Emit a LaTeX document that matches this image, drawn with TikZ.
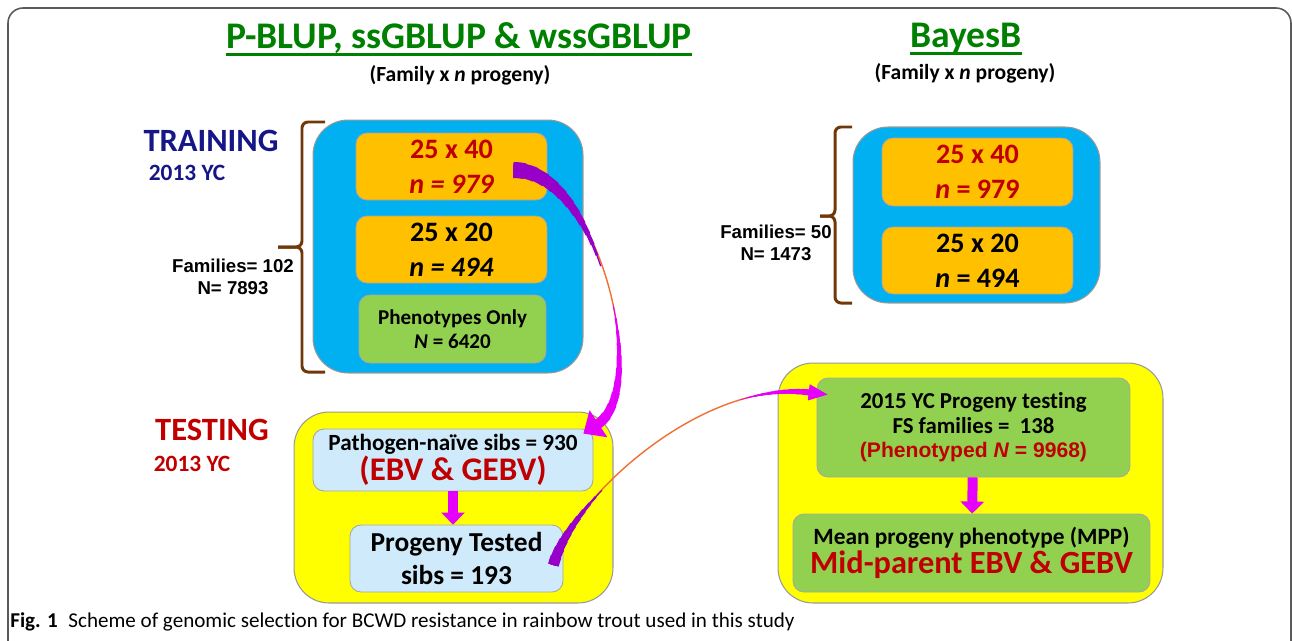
\documentclass[tikz,border=0pt]{standalone}
\usepackage{fontspec}
\setmainfont{Carlito}[Ligatures=NoCommon]
\newfontfamily\arialFont{Liberation Sans}
\usetikzlibrary{arrows.meta,calc}

\definecolor{frameGray}{RGB}{90,90,90}
\definecolor{titleGreen}{RGB}{0,128,0}
\definecolor{trainBlue}{RGB}{22,22,135}
\definecolor{darkRed}{RGB}{192,0,0}
\definecolor{cyanFill}{RGB}{0,176,240}
\definecolor{orangeFill}{RGB}{255,192,0}
\definecolor{greenFill}{RGB}{146,208,80}
\definecolor{yellowFill}{RGB}{255,255,0}
\definecolor{paleFill}{RGB}{207,234,250}
\definecolor{braceBrown}{RGB}{112,56,8}
\definecolor{arcPurple}{RGB}{150,0,200}
\definecolor{arcMagenta}{RGB}{228,0,250}
\definecolor{arcOrange}{RGB}{240,112,50}

\newcommand{\sz}[2]{\fontsize{#1}{#2}\selectfont}
\newcommand{\RedTxt}[1]{\textcolor{darkRed}{#1}}

\begin{document}
\begin{tikzpicture}[x=0.02cm,y=-0.02cm]
  \tikzset{
    panel/.style={draw=black!40, line width=0.6pt, rounded corners=0.7cm, inner sep=0pt},
    cell/.style={draw=black!35, line width=0.5pt, rounded corners=0.22cm, align=center, inner sep=0pt, text=black, font=\bfseries},
    orangeCell/.style={cell, fill=orangeFill, minimum width=3.82cm, minimum height=1.34cm, font=\bfseries\sz{16}{20}},
    greenCell/.style={cell, fill=greenFill},
    paleCell/.style={cell, fill=paleFill},
    heading/.style={text=titleGreen, font=\bfseries\sz{21.4}{24}, inner sep=0pt},
    subHeading/.style={font=\bfseries\sz{12.3}{14}, inner sep=0pt},
    stageLabel/.style={font=\bfseries\sz{18.5}{20}, inner sep=0pt},
    yearLabel/.style={font=\bfseries\sz{13.3}{15}, inner sep=0pt},
    countLabel/.style={font=\arialFont\bfseries\sz{10.6}{12.3}, align=center, inner sep=0pt},
    braceLine/.style={draw=braceBrown, line width=1.7pt, rounded corners=0.12cm},
    dropArrow/.style={draw=arcMagenta, line width=0.2cm, -{Triangle[width=0.46cm,length=0.24cm]}},
    arcThin/.style={draw=arcOrange, line width=0.8pt},
  }
  \useasboundingbox (0,0) rectangle (1292,640);
  \clip (0,0) rectangle (1292,640);

  % outer frame
  \draw[frameGray, line width=0.9pt, rounded corners=0.3cm] (8,660) -- (8,8) -- (1291,8) -- (1291,660);

  % headings
  \node[heading] (hdA) at (459,38) {P-BLUP, ssGBLUP \& wssGBLUP};
  \draw[titleGreen, line width=1.5pt] ([yshift=-3.5pt]hdA.base west) -- ([yshift=-3.5pt]hdA.base east);
  \node[subHeading] (subA) at (460,75) {(Family x \textit{n} progeny)};
  \node[heading] (hdB) at (966,38) {BayesB};
  \draw[titleGreen, line width=1.5pt] ([yshift=-3.5pt]hdB.base west) -- ([yshift=-3.5pt]hdB.base east);
  \node[subHeading] (subB) at (965,73) {(Family x \textit{n} progeny)};

  % training, left
  \node[stageLabel, text=trainBlue] (trnLbl) at (211,141) {TRAINING};
  \node[yearLabel, text=trainBlue] (trnYr) at (187,173) {2013 YC};
  \node[countLabel] (trnCnt) at (233,277) {Families= 102\\N= 7893};
  \draw[braceLine] (325,122) -- (302,122) -- (302,247) -- (278,247);
  \draw[braceLine] (278,247) -- (302,247) -- (302,372) -- (325,372);
  \node[panel, fill=cyanFill, minimum width=5.4cm, minimum height=5.06cm] (trnPanel) at (448,246.5) {};
  \node[orangeCell] (trnA) at (451.5,166.5) {\RedTxt{25 x 40}\\\RedTxt{\itshape n = 979}};
  \node[orangeCell] (trnB) at (451.5,249.5) {25 x 20\\{\itshape n = 494}};
  \node[greenCell, minimum width=3.74cm, minimum height=1.36cm, font=\bfseries\sz{12}{14}] (trnC) at (452.5,329) {Phenotypes Only\\\textit{N} = 6420};

  % training, BayesB
  \node[countLabel] (bayCnt) at (776,243) {Families= 50\\N= 1473};
  \draw[braceLine] (852,127) -- (835,127) -- (835,216) -- (820,216);
  \draw[braceLine] (820,216) -- (835,216) -- (835,303) -- (852,303);
  \node[panel, fill=cyanFill, minimum width=4.94cm, minimum height=3.52cm] (bayPanel) at (976.5,215) {};
  \node[orangeCell, minimum height=1.36cm] (bayA) at (977.5,172) {\RedTxt{25 x 40}\\\RedTxt{\textit{n} = 979}};
  \node[orangeCell] (bayB) at (977.5,260.5) {25 x 20\\\textit{n} = 494};

  % testing
  \node[stageLabel, text=darkRed] (tstLbl) at (212,430) {TESTING};
  \node[yearLabel, text=darkRed] (tstYr) at (192,464) {2013 YC};
  \node[panel, fill=yellowFill, minimum width=6.38cm, minimum height=3.82cm] (tstPanel) at (453.5,507.5) {};
  \node[paleCell, minimum width=5.6cm, minimum height=1.24cm] (naive) at (453,460)
    {{\sz{13.2}{16}Pathogen-naïve sibs = 930}\\{\sz{18.8}{20}\color{darkRed}(EBV \& GEBV)}};
  \node[paleCell, minimum width=4.26cm, minimum height=1.34cm, font=\bfseries\sz{15.6}{19}] (tested) at (456.5,558.5) {Progeny Tested\\sibs = 193};
  \draw[dropArrow] (naive.south) -- (naive.south |- tested.north);

  % progeny testing
  \node[panel, fill=yellowFill, minimum width=7.7cm, minimum height=4.8cm] (progPanel) at (970.5,483) {};
  \node[greenCell, minimum width=6.26cm, minimum height=1.98cm, font=\bfseries\sz{13}{14}] (ycTest) at (973.5,427.5)
    {2015 YC Progeny testing\\FS families =~~138\\{\arialFont\bfseries\sz{12}{14}\color{darkRed}(Phenotyped \textit{N} = 9968)}};
  \node[greenCell, minimum width=7.14cm, minimum height=1.56cm] (mpp) at (971.5,553)
    {{\sz{13.3}{16}Mean progeny phenotype (MPP)}\\{\sz{18.4}{20}\color{darkRed}Mid-parent EBV \& GEBV}};
  \draw[dropArrow] (ycTest) -- (mpp);

  % curved links
  \coordinate (arcAs) at ($(trnA.east)+(-34,3.5)$);
  \coordinate (arcAe) at ($(naive.north east)+(-10,5)$);
  \coordinate (arcBs) at ($(tested.east)+(-10,6.5)$);
  \coordinate (arcBe) at ($(ycTest.north west)+(11,17)$);

  \draw[arcThin, -{Triangle[color=arcMagenta, width=0.64cm, length=0.36cm]}] (arcAs) .. controls +(87,0) and +(67,-44) .. (arcAe);
  \foreach \i [evaluate=\i as \w using 0.32*(13-\i)/12, evaluate=\i as \l using 0.23*\i] in {1,...,12}
    \draw[arcPurple, line width=\w cm, dash pattern=on \l cm off 30cm] (arcAs) .. controls +(87,0) and +(67,-44) .. (arcAe);
  \foreach \i [evaluate=\i as \w using 0.2*(11-\i)/10, evaluate=\i as \l using 0.25*\i] in {1,...,10}
    \draw[arcMagenta, line width=\w cm, dash pattern=on \l cm off 30cm, shorten <=0.34cm] (arcAe) .. controls +(67,-44) and +(87,0) .. (arcAs);

  \draw[arcThin, -{Triangle[color=arcMagenta, width=0.32cm, length=0.38cm]}] (arcBs) .. controls +(17,-65) and +(-128,-15) .. (arcBe);
  \foreach \i [evaluate=\i as \w using 0.22*(11-\i)/10, evaluate=\i as \l using 0.18*\i] in {1,...,10}
    \draw[arcPurple, line width=\w cm, dash pattern=on \l cm off 30cm] (arcBs) .. controls +(17,-65) and +(-128,-15) .. (arcBe);
  \foreach \i [evaluate=\i as \w using 0.12*(11-\i)/10, evaluate=\i as \l using 0.14*\i] in {1,...,10}
    \draw[arcMagenta, line width=\w cm, dash pattern=on \l cm off 30cm, shorten <=0.36cm] (arcBe) .. controls +(-128,-15) and +(17,-65) .. (arcBs);

  % caption
  \node[anchor=west, inner sep=0pt, font=\sz{12}{14}] (cap) at (10,622)
    {\textbf{Fig. 1}\enspace Scheme of genomic selection for BCWD resistance in rainbow trout used in this study};
\end{tikzpicture}
\end{document}
